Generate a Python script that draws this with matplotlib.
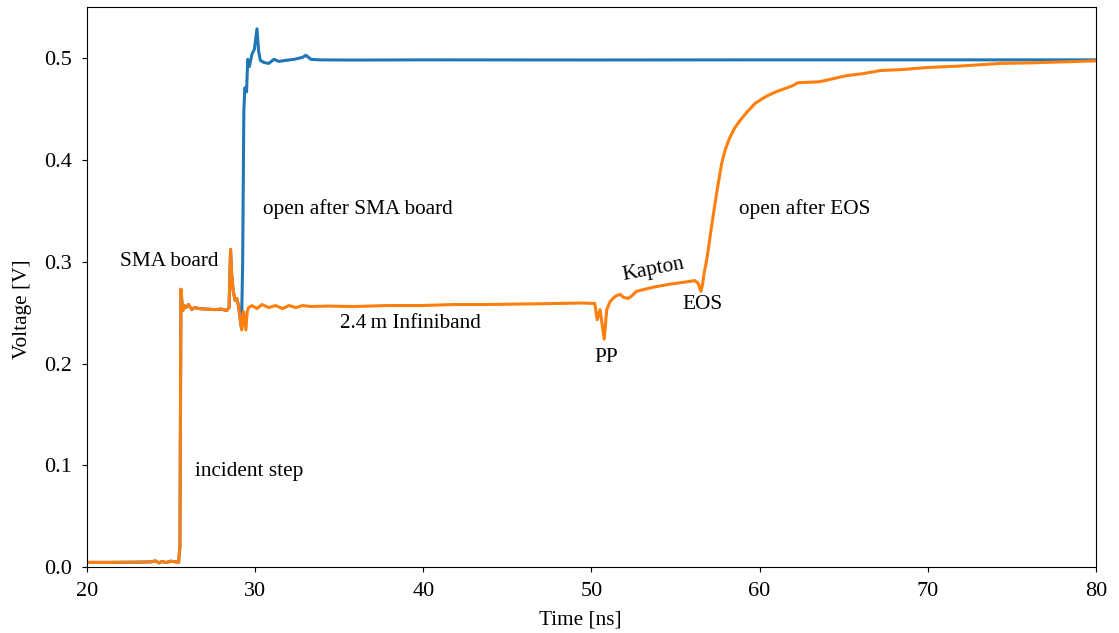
import matplotlib
matplotlib.use("Agg")
import matplotlib.pyplot as plt
import numpy as np

plt.rcParams['font.family'] = ['Liberation Serif', 'DejaVu Serif']
plt.rcParams['font.size'] = 15.3
plt.rcParams['xtick.labelsize'] = 16
plt.rcParams['ytick.labelsize'] = 16
plt.rcParams['xtick.major.pad'] = 7
plt.rcParams['ytick.major.pad'] = 7.5

# TDR traces: time in ns, voltage in V
# common part of both measurements (incident step up to the SMA board)
t_common = [20.0, 21.27, 22.78, 23.78, 24.08, 24.28, 24.48, 24.69, 24.99, 25.29,
            25.45, 25.53, 25.59, 25.64, 25.70, 25.78, 25.89, 26.04, 26.24, 26.39,
            26.70, 27.10, 27.60, 28.00, 28.30, 28.45]
v_common = [0.0045, 0.0045, 0.0047, 0.005, 0.006, 0.004, 0.0055, 0.0043, 0.0057,
            0.005, 0.0045, 0.02, 0.273, 0.262, 0.252, 0.257, 0.255, 0.258, 0.253,
            0.255, 0.254, 0.2535, 0.253, 0.2535, 0.252, 0.255]

# open after SMA board
t_sma = [28.54, 28.60, 28.70, 28.81, 28.91, 29.01, 29.11, 29.19, 29.26, 29.33,
         29.39, 29.49, 29.56, 29.66, 29.81, 29.96, 30.11, 30.21, 30.31, 30.51,
         30.81, 31.12, 31.42, 31.82, 32.32, 32.82, 33.02, 33.32, 33.83, 35.84,
         39.86, 49.90, 60.0, 70.0, 80.0]
v_sma = [0.312, 0.289, 0.271, 0.262, 0.264, 0.257, 0.244, 0.235, 0.30, 0.449,
         0.471, 0.467, 0.499, 0.492, 0.504, 0.509, 0.529, 0.507, 0.498, 0.496,
         0.495, 0.499, 0.497, 0.498, 0.499, 0.501, 0.503, 0.499, 0.4985, 0.4983,
         0.4985, 0.4984, 0.4985, 0.4985, 0.4985]

# open after EOS
t_eos = [28.54, 28.60, 28.70, 28.81, 28.91, 29.01, 29.11, 29.20, 29.31, 29.45,
         29.53, 29.61, 29.81, 30.11, 30.41, 30.81, 31.22, 31.62, 32.02, 32.42,
         32.82, 33.32, 34.33, 35.84, 37.85, 39.86, 41.87, 43.88, 45.89, 47.90,
         49.40, 50.20, 50.34, 50.51, 50.76, 50.91, 51.11, 51.41, 51.71, 51.91,
         52.19, 52.37, 52.68, 53.67, 54.66, 55.53, 56.14, 56.34, 56.51, 56.60,
         56.70, 56.80, 56.90, 57.00, 57.10, 57.20, 57.30, 57.45, 57.60, 57.75,
         57.95, 58.20, 58.50, 58.84, 59.24, 59.75, 60.43, 60.96, 61.62, 61.96,
         62.26, 62.96, 63.57, 64.37, 65.17, 66.17, 67.18, 68.48, 70.0, 72.0,
         74.31, 76.03, 78.04, 80.0]
v_eos = [0.312, 0.289, 0.271, 0.262, 0.264, 0.257, 0.244, 0.233, 0.251, 0.233,
         0.251, 0.255, 0.257, 0.254, 0.258, 0.255, 0.257, 0.254, 0.257, 0.255,
         0.257, 0.256, 0.2565, 0.256, 0.257, 0.257, 0.258, 0.258, 0.2585, 0.259,
         0.2595, 0.259, 0.243, 0.253, 0.224, 0.253, 0.261, 0.266, 0.268, 0.265,
         0.264, 0.266, 0.271, 0.275, 0.278, 0.280, 0.2815, 0.279, 0.271, 0.277,
         0.289, 0.297, 0.307, 0.318, 0.330, 0.341, 0.352, 0.368, 0.383, 0.397,
         0.410, 0.421, 0.431, 0.439, 0.447, 0.456, 0.463, 0.467, 0.471, 0.473,
         0.476, 0.4765, 0.477, 0.480, 0.483, 0.485, 0.488, 0.489, 0.491, 0.4925,
         0.495, 0.4955, 0.4965, 0.4975]

t_blue = np.array(t_common + t_sma)
v_blue = np.array(v_common + v_sma)
t_orange = np.array(t_common + t_eos)
v_orange = np.array(v_common + v_eos)

fig = plt.figure(figsize=(11.19, 6.33), dpi=100)
ax = fig.add_axes([0.0777, 0.1043, 0.9017, 0.8839])

ax.plot(t_blue, v_blue, color='#1f77b4', lw=2.2)
ax.plot(t_orange, v_orange, color='#ff7f0e', lw=2.2)

ax.set_xlim(20, 80)
ax.set_ylim(0, 0.550)
ax.set_xticks([20, 30, 40, 50, 60, 70, 80])
ax.set_yticks([0.0, 0.1, 0.2, 0.3, 0.4, 0.5])
ax.set_xlabel('Time [ns]')
ax.set_ylabel('Voltage [V]')
ax.xaxis.set_label_coords(0.4886, -0.077)
ax.yaxis.set_label_coords(-0.0545, 0.461)

ax.text(26.42, 0.0895, 'incident step')
ax.text(21.96, 0.296, 'SMA board')
ax.text(30.46, 0.347, 'open after SMA board')
ax.text(35.04, 0.235, '2.4\u2009m Infiniband')
ax.text(50.20, 0.2016, 'PP')
ax.text(53.71, 0.292, 'Kapton', rotation=11, ha='center', va='center',
        rotation_mode='anchor')
ax.text(55.43, 0.2537, 'EOS')
ax.text(58.76, 0.347, 'open after EOS')

fig.savefig('out.png', dpi=100)
